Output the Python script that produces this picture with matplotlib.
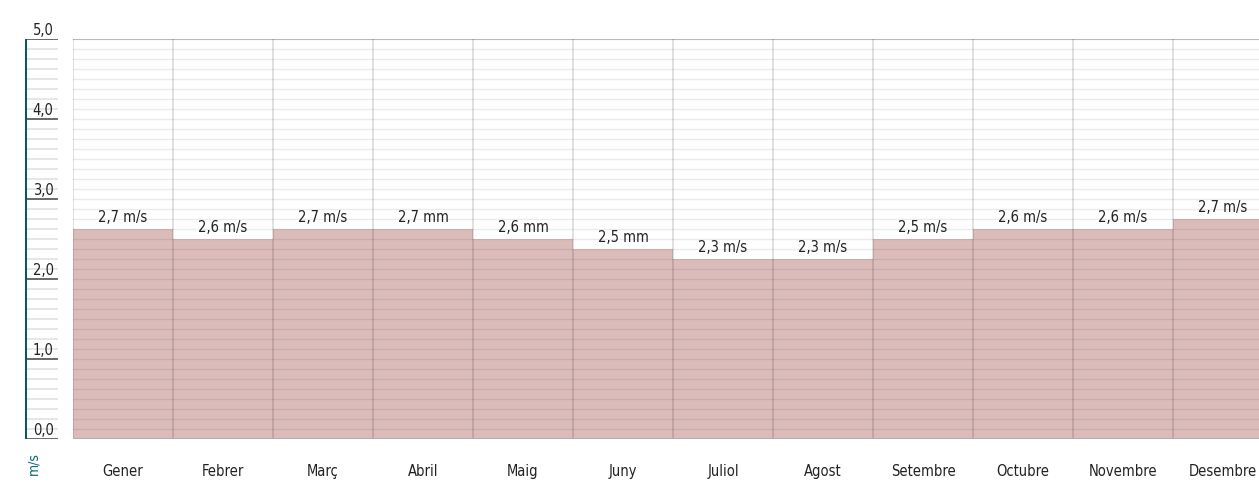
import matplotlib
matplotlib.use("Agg")
import matplotlib.pyplot as plt
import numpy as np

months = ["Gener", "Febrer", "Març", "Abril", "Maig", "Juny", "Juliol",
          "Agost", "Setembre", "Octubre", "Novembre", "Desembre"]
values = [2.625, 2.5, 2.625, 2.625, 2.5, 2.375, 2.25, 2.25, 2.5, 2.625, 2.625, 2.75]
labels = ["2,7 m/s", "2,6 m/s", "2,7 m/s", "2,7 mm", "2,6 mm", "2,5 mm",
          "2,3 m/s", "2,3 m/s", "2,5 m/s", "2,6 m/s", "2,6 m/s", "2,7 m/s"]
yticks = [0, 1, 2, 3, 4, 5]
ytick_labels = ["0,0", "1,0", "2,0", "3,0", "4,0", "5,0"]
unit = "m/s"

W, H = 1259, 485
fig = plt.figure(figsize=(W / 100, H / 100), dpi=100)
plt.rcParams['font.family'] = ['DejaVu Sans']
FONT = dict(family='DejaVu Sans', fontstretch='condensed')

bottom = 1 - 440 / H
top = 1 - 40 / H
ax = fig.add_axes([73 / W, bottom, 1200 / W, top - bottom])
n = len(months)
ax.set_xlim(0, n)
ax.set_ylim(0, 5)
x = np.arange(n) + 0.5
ax.bar(x, values, width=1.0, color='#dbbcbb', zorder=1, linewidth=0)
minor = np.arange(0, 5.0001, 0.125)
for yv in minor:
    ax.axhline(yv, color='black', alpha=0.08, lw=1, zorder=2)
for i in range(n + 1):
    ax.axvline(i, color='black', alpha=0.14, lw=1.2, zorder=2)
ax.axhline(5, color='black', alpha=0.25, lw=1.2, zorder=2)
for xi, v, lab in zip(x, values, labels):
    ax.text(xi, v + 0.06, lab, ha='center', va='bottom', fontsize=10.5, color='#222222', **FONT)
ax.set_xticks(x)
ax.set_xticklabels(months, fontsize=10.5, color='#222222', **FONT)
ax.tick_params(axis='x', length=0, pad=17)
ax.set_yticks([])
for s in ax.spines.values():
    s.set_visible(False)
ax.axhline(0, color='#b0b0b0', lw=1.5, zorder=3)

# left scale
ax2 = fig.add_axes([25 / W, bottom, 33 / W, top - bottom])
ax2.set_xlim(0, 1)
ax2.set_ylim(0, 5)
ax2.axis('off')
for yv in minor:
    ax2.axhline(yv, color='#e2e2e2', lw=1.2)
for yv, lab in zip(yticks, ytick_labels):
    ax2.axhline(yv, color='#555555', lw=1.2)
    ax2.text(0.55, yv + 0.03, lab, ha='center', va='bottom', fontsize=10.5, color='#222222', **FONT)
ax2.axvline(0, color='#0b5a5a', lw=2.2)

fig.text(33 / W, 1 - 464 / H, unit, rotation=90, ha='center', va='center',
         fontsize=10, color='#0b6b6b', **FONT)

fig.savefig("out.png", dpi=100)
